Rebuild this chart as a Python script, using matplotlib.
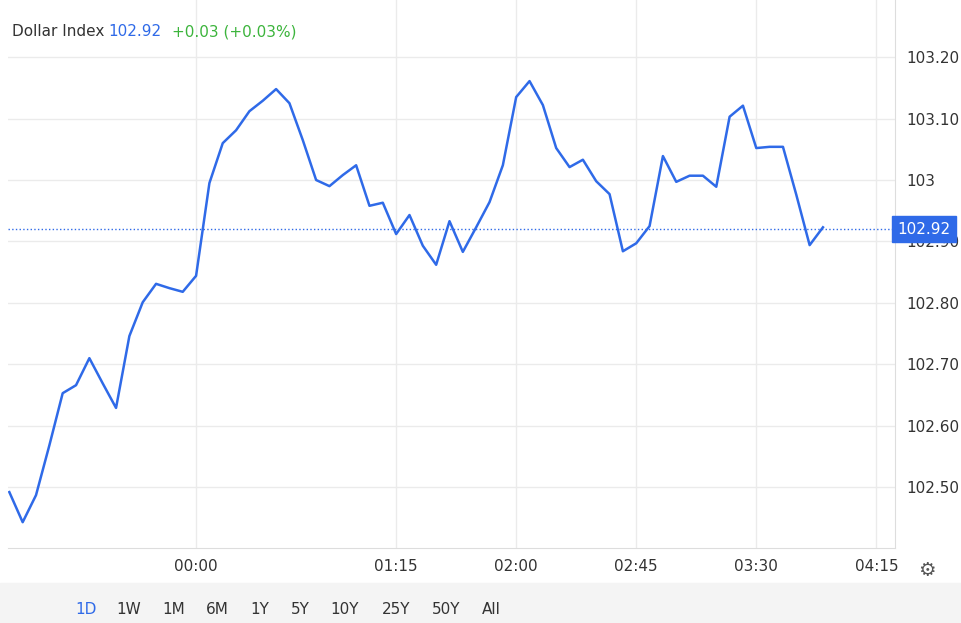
import matplotlib.pyplot as plt
import numpy as np

# minutes relative to 00:00, one point every 5 minutes
minutes = list(range(-70, 240, 5))
prices = [102.492, 102.443, 102.487, 102.568, 102.653, 102.666, 102.710, 102.669, 102.629, 102.746,
          102.801, 102.831, 102.824, 102.818, 102.844, 102.995, 103.060, 103.081, 103.112, 103.129,
          103.148, 103.125, 103.065, 103.000, 102.990, 103.008, 103.024, 102.958, 102.963, 102.912,
          102.943, 102.893, 102.862, 102.933, 102.883, 102.923, 102.964, 103.024, 103.135, 103.161,
          103.122, 103.052, 103.021, 103.033, 102.998, 102.977, 102.884, 102.897, 102.925, 103.039,
          102.997, 103.007, 103.007, 102.989, 103.103, 103.121, 103.052, 103.054, 103.054, 102.976,
          102.894, 102.923]
last_price = 102.92
x_ticks = [0, 75, 120, 165, 210, 255]
x_labels = ['00:00', '01:15', '02:00', '02:45', '03:30', '04:15']
y_ticks = [102.5, 102.6, 102.7, 102.8, 102.9, 103.0, 103.1, 103.2]
y_labels = ['102.50', '102.60', '102.70', '102.80', '102.90', '103', '103.10', '103.20']
ranges = ['1D', '1W', '1M', '6M', '1Y', '5Y', '10Y', '25Y', '50Y', 'All']

blue = '#2f6ae8'
W, H = 962, 623
fig = plt.figure(figsize=(W / 100, H / 100), dpi=100)
fig.patches.append(plt.Rectangle((0, 0), 1, 40 / H, transform=fig.transFigure,
                                 color='#f4f4f4', zorder=0))
ax = fig.add_axes([8 / W, (H - 548) / H, 887 / W, 548 / H])
ax.plot(minutes, prices, color=blue, linewidth=1.8)
ax.set_xlim(-70.5, 262)
ax.set_ylim(102.401, 103.293)
ax.set_xticks(x_ticks)
ax.set_xticklabels(x_labels, fontsize=11, color='#333333')
ax.set_yticks(y_ticks)
ax.set_yticklabels(y_labels, fontsize=11, color='#333333')
ax.yaxis.tick_right()
ax.tick_params(axis='both', length=0, pad=8)
ax.tick_params(axis='x', pad=8)
ax.grid(color='#ebebeb', linewidth=1)
for s in ['top', 'left']:
    ax.spines[s].set_visible(False)
ax.spines['right'].set_color('#dddddd')
ax.spines['bottom'].set_color('#dddddd')

ax.axhline(last_price, color=blue, linestyle=':', linewidth=1)
ax.text(1.003, last_price, f'{last_price:.2f}', transform=ax.get_yaxis_transform(),
        va='center', ha='left', fontsize=11, color='white',
        bbox=dict(boxstyle='square,pad=0.35', fc=blue, ec=blue), clip_on=False)

fig.text(12 / W, 1 - 32 / H, 'Dollar Index', fontsize=11, color='#333333', va='center')
fig.text(108 / W, 1 - 32 / H, '102.92', fontsize=11, color=blue, va='center')
fig.text(172 / W, 1 - 32 / H, '+0.03 (+0.03%)', fontsize=11, color='#3cb43c', va='center')

xs = [86, 129, 174, 217, 260, 300, 345, 396, 446, 491]
for xp, r in zip(xs, ranges):
    fig.text(xp / W, 1 - 609 / H, r, fontsize=11, ha='center', va='center',
             color=blue if r == '1D' else '#333333')
fig.text(927 / W, 1 - 571 / H, '\u2699', fontsize=14, ha='center', va='center', color='#555555')

fig.savefig('out.png', dpi=100)
